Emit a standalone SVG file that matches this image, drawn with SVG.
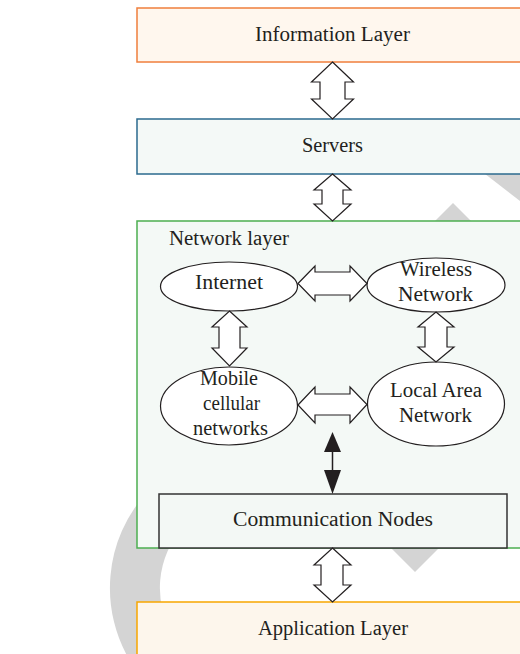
<svg xmlns="http://www.w3.org/2000/svg" width="520" height="654" viewBox="0 0 520 654">
  <style>
    .lbl { font-family: "Liberation Serif", "Times New Roman", serif; font-size: 20px; fill: #231f20; text-anchor: middle; }
    .lbl-start { text-anchor: start; }
    .ell { fill: #ffffff; stroke: #231f20; stroke-width: 1.2; }
    .hollow { fill: #ffffff; stroke: #231f20; stroke-width: 1.2; stroke-linejoin: miter; }
    .solid { fill: #231f20; stroke: none; }
    .wm { fill: #d4d4d4; }
  </style>

  <rect x="0" y="0" width="520" height="654" fill="#ffffff"/>

  <!-- background mark -->
  <g id="backdrop">
    <path class="wm" d="M 203.4 721.5 A 142 142 0 0 1 227.3 448.2 L 236 497.4 A 92 92 0 0 0 220.5 674.5 Z"/>
    <polygon class="wm" points="380,537 450,537 415,572"/>
    <polygon class="wm" points="453,203 490,240 416,240"/>
    <polygon class="wm" points="467,160 525,160 525,205"/>
  </g>

  <!-- layer boxes -->
  <g id="information-layer">
    <rect x="137" y="8" width="400" height="54" fill="#fff7ee" stroke="#f07f3c" stroke-width="1.5"/>
    <text class="lbl" x="332.5" y="41" textLength="155" lengthAdjust="spacingAndGlyphs">Information Layer</text>
  </g>

  <g id="servers">
    <rect x="137" y="119" width="400" height="55" fill="#f4f9f7" stroke="#2b6a8e" stroke-width="1.5"/>
    <text class="lbl" x="332.5" y="152" textLength="61" lengthAdjust="spacingAndGlyphs">Servers</text>
  </g>

  <g id="network-layer">
    <rect x="137" y="221" width="400" height="327" fill="#f4f9f6" stroke="#4cae50" stroke-width="1.5"/>
    <text class="lbl lbl-start" x="169" y="245" textLength="120" lengthAdjust="spacingAndGlyphs">Network layer</text>
  </g>

  <g id="application-layer">
    <rect x="137" y="602" width="400" height="70" fill="#fdf6ec" stroke="#f7a600" stroke-width="1.5"/>
    <text class="lbl" x="333" y="635" textLength="150" lengthAdjust="spacingAndGlyphs">Application Layer</text>
  </g>

  <!-- network members -->
  <g id="internet">
    <ellipse class="ell" cx="229" cy="286.5" rx="68.5" ry="24.5"/>
    <text class="lbl" x="229" y="288.5" textLength="68" lengthAdjust="spacingAndGlyphs">Internet</text>
  </g>

  <g id="wireless-network">
    <ellipse class="ell" cx="436" cy="285" rx="69" ry="27"/>
    <text class="lbl" x="436" y="275.5" textLength="72" lengthAdjust="spacingAndGlyphs">Wireless</text>
    <text class="lbl" x="435.5" y="301" textLength="75" lengthAdjust="spacingAndGlyphs">Network</text>
  </g>

  <g id="mobile-cellular">
    <ellipse class="ell" cx="229" cy="406" rx="68.5" ry="39"/>
    <text class="lbl" x="229" y="385" textLength="58" lengthAdjust="spacingAndGlyphs">Mobile</text>
    <text class="lbl" x="231.5" y="409.5" textLength="57" lengthAdjust="spacingAndGlyphs">cellular</text>
    <text class="lbl" x="230.5" y="434.5" textLength="75" lengthAdjust="spacingAndGlyphs">networks</text>
  </g>

  <g id="local-area-network">
    <ellipse class="ell" cx="436" cy="404" rx="68.5" ry="42"/>
    <text class="lbl" x="436" y="396.5" textLength="92" lengthAdjust="spacingAndGlyphs">Local Area</text>
    <text class="lbl" x="435.5" y="421.5" textLength="73" lengthAdjust="spacingAndGlyphs">Network</text>
  </g>

  <g id="communication-nodes">
    <rect x="159" y="494" width="348" height="54" fill="#f3f8f5" stroke="#333333" stroke-width="1.5"/>
    <text class="lbl" x="333" y="526" textLength="200" lengthAdjust="spacingAndGlyphs">Communication Nodes</text>
  </g>

  <!-- connectors -->
  <g id="connectors">
    <!-- information layer <-> servers -->
    <polygon class="hollow" points="332.5,62 353.5,82 345,82 345,99 353.5,99 332.5,119 311.5,99 320,99 320,82 311.5,82"/>
    <!-- servers <-> network layer -->
    <polygon class="hollow" points="332.5,174 351,190 343,190 343,204 351,204 332.5,221 314,204 322,204 322,190 314,190"/>
    <!-- internet <-> wireless network -->
    <polygon class="hollow" points="298,283.5 315,266 315,272 350,272 350,266 367,283.5 350,301 350,295 315,295 315,301"/>
    <!-- internet <-> mobile cellular networks -->
    <polygon class="hollow" points="229.5,311 247,327 240,327 240,348 247,348 229.5,366 212,348 219,348 219,327 212,327"/>
    <!-- wireless network <-> local area network -->
    <polygon class="hollow" points="436,312 454,327 447,327 447,347 454,347 436,362 418,347 425,347 425,327 418,327"/>
    <!-- mobile cellular networks <-> local area network -->
    <polygon class="hollow" points="298,405 315,387 315,394 350,394 350,387 367,404.5 350,423 350,415 315,415 315,423"/>
    <!-- network members <-> communication nodes -->
    <line x1="332.5" y1="448" x2="332.5" y2="474" stroke="#231f20" stroke-width="1.5"/>
    <polygon class="solid" points="332.5,432 341,452 324,452"/>
    <polygon class="solid" points="332.5,494 341,470 324,470"/>
    <!-- communication nodes <-> application layer -->
    <polygon class="hollow" points="332.5,548 351,565 343,565 343,585 351,585 332.5,602 314,585 321,585 321,565 314,565"/>
  </g>
</svg>
